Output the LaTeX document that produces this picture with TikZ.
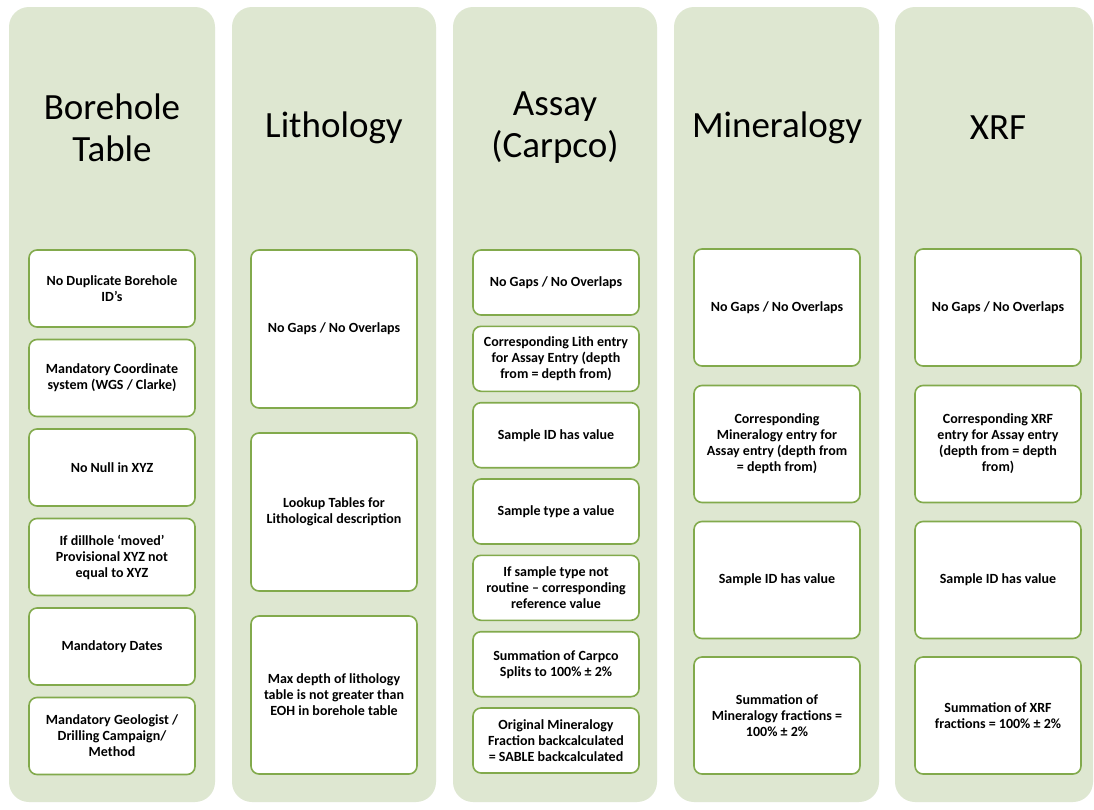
\documentclass[tikz,border=0pt]{standalone}
\usepackage{fontspec}
\setmainfont{Carlito}
\begin{document}
\definecolor{colfill}{HTML}{DEE7D1}
\definecolor{boxline}{HTML}{82AA4C}
\begin{tikzpicture}[x=1pt,y=-1pt,
  column/.style={fill=colfill, draw=none, rounded corners=20pt},
  title/.style={font=\fontsize{37}{42}\selectfont, align=center, text=black},
  check/.style={draw=boxline, line width=1.6pt, fill=white, rounded corners=8pt,
    minimum width=166pt, align=center, inner sep=2pt,
    font=\bfseries\fontsize{14}{16}\selectfont},
  rowA/.style={check, minimum height=77pt},
  rowB/.style={check, minimum height=158pt},
  rowC/.style={check, minimum height=65pt},
  rowD/.style={check, minimum height=117pt}]
\useasboundingbox (0,0) rectangle (1094,809);
\fill[white] (0,0) rectangle (1094,809);

% the five table columns
\fill[column] (9,7) rectangle (215,802);
\fill[column] (232,7) rectangle (436,802);
\fill[column] (453,7) rectangle (657,802);
\fill[column] (674,7) rectangle (879,802);
\fill[column] (895,7) rectangle (1093,802);

% column headings
\node[title] (tBore) at (112,128) {Borehole\\Table};
\node[title] (tLith) at (334,128) {Lithology};
\node[title] (tAssay) at (555,128) {Assay\\(Carpco)};
\node[title] (tMin) at (777,128) {Mineralogy};
\node[title] (tXrf) at (998,128) {XRF};

% Borehole table checks
\node[rowA] (b1) at (112,288.5) {No Duplicate Borehole\\ID's};
\node[rowA] (b2) at (112,378) {Mandatory Coordinate\\system (WGS / Clarke)};
\node[rowA] (b3) at (112,467.5) {No Null in XYZ};
\node[rowA] (b4) at (112,557) {If dillhole `moved'\\Provisional XYZ not\\equal to XYZ};
\node[rowA] (b5) at (112,646.5) {Mandatory Dates};
\node[rowA] (b6) at (112,736) {Mandatory Geologist /\\Drilling Campaign/\\Method};

% Lithology checks
\node[rowB] (l1) at (334,329) {No Gaps / No Overlaps};
\node[rowB] (l2) at (334,512) {Lookup Tables for\\Lithological description};
\node[rowB] (l3) at (334,695) {Max depth of lithology\\table is not greater than\\EOH in borehole table};

% Assay checks
\node[rowC] (a1) at (556,282.5) {No Gaps / No Overlaps};
\node[rowC] (a2) at (556,358.8) {Corresponding Lith entry\\for Assay Entry (depth\\from = depth from)};
\node[rowC] (a3) at (556,435.2) {Sample ID has value};
\node[rowC] (a4) at (556,511.5) {Sample type a value};
\node[rowC] (a5) at (556,587.8) {If sample type not\\routine -- corresponding\\reference value};
\node[rowC] (a6) at (556,664.2) {Summation of Carpco\\Splits to 100\% ± 2\%};
\node[rowC] (a7) at (556,740.5) {Original Mineralogy\\Fraction backcalculated\\= SABLE backcalculated};

% Mineralogy checks
\node[rowD] (m1) at (777,307.5) {No Gaps / No Overlaps};
\node[rowD] (m2) at (777,444) {Corresponding\\Mineralogy entry for\\Assay entry (depth from\\= depth from)};
\node[rowD] (m3) at (777,580) {Sample ID has value};
\node[rowD] (m4) at (777,715.5) {Summation of\\Mineralogy fractions =\\100\% ± 2\%};

% XRF checks
\node[rowD] (x1) at (998,307.5) {No Gaps / No Overlaps};
\node[rowD] (x2) at (998,444) {Corresponding XRF\\entry for Assay entry\\(depth from = depth\\from)};
\node[rowD] (x3) at (998,580) {Sample ID has value};
\node[rowD] (x4) at (998,715.5) {Summation of XRF\\fractions = 100\% ± 2\%};
\end{tikzpicture}
\end{document}
